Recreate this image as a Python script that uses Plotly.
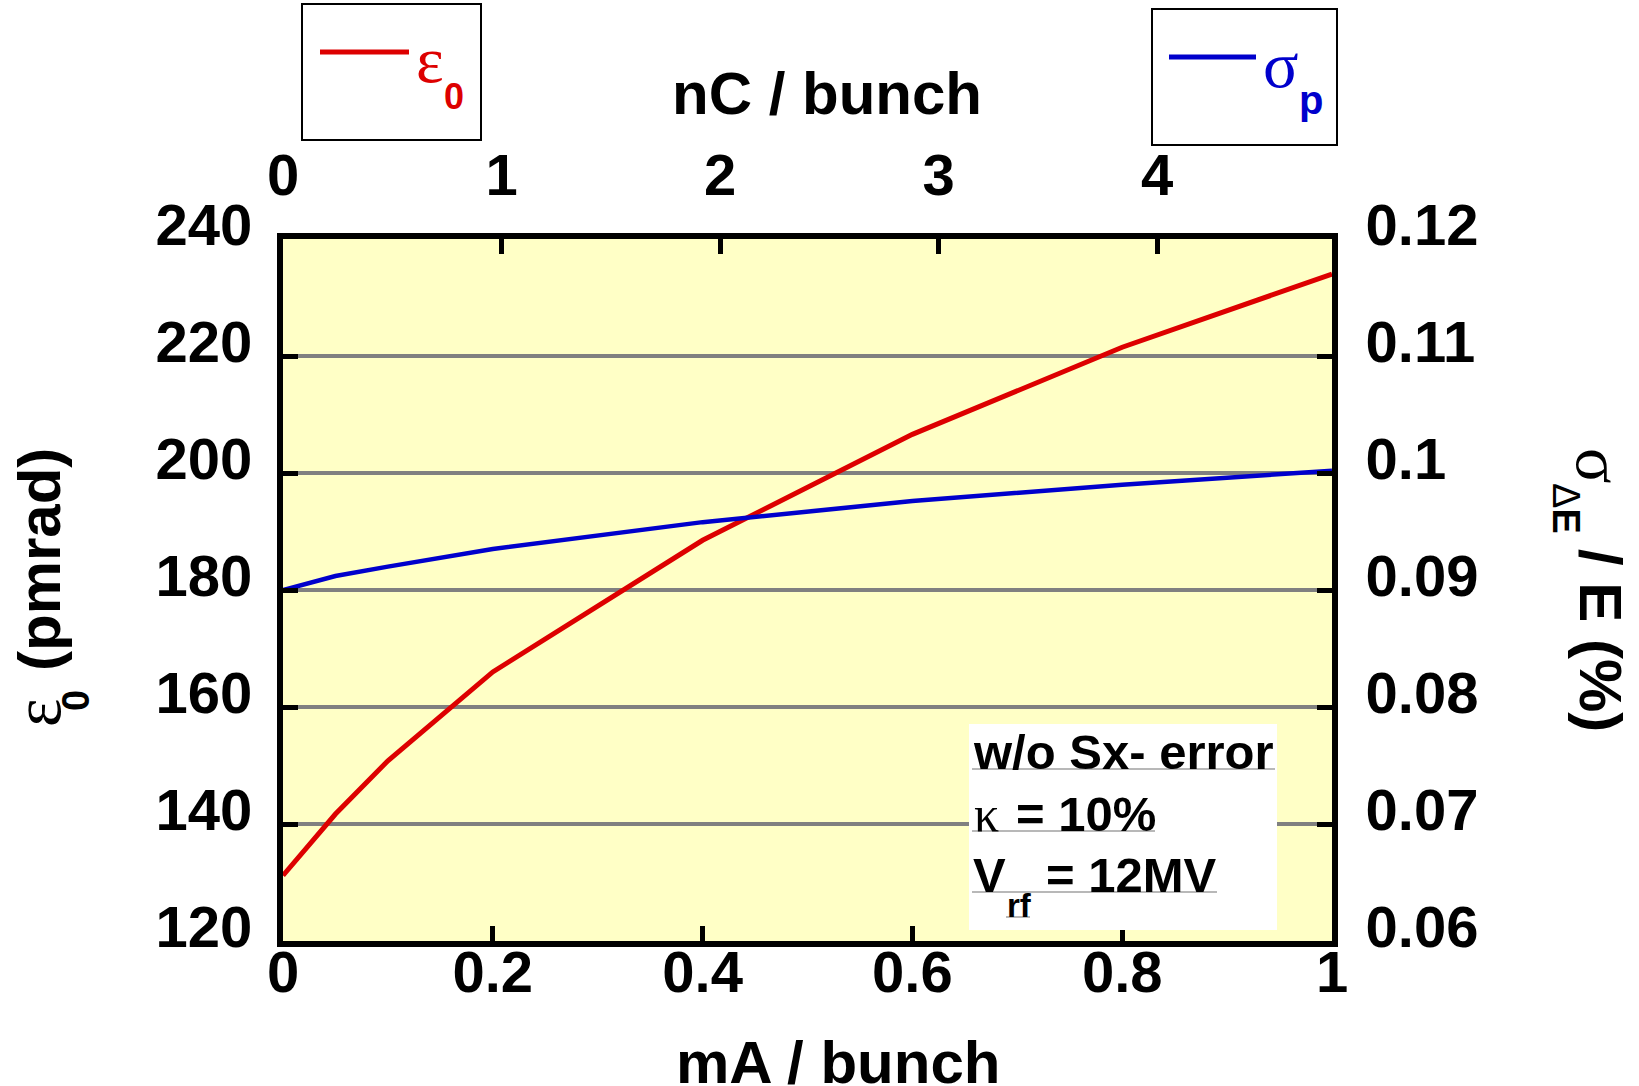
import plotly.graph_objects as go

# Bunch current (mA) and the two measured quantities
current_mA = [0, 0.05, 0.1, 0.2, 0.4, 0.6, 0.8, 1.0]
emittance_pmrad = [131.2, 141.7, 150.8, 166.0, 188.5, 206.6, 221.5, 234.0]
energy_spread_pct = [0.0900, 0.0912, 0.0920, 0.0935, 0.0958, 0.0976, 0.0990, 0.1002]

# Axis ticks
x_ticks = [0, 0.2, 0.4, 0.6, 0.8, 1]
x_ticktext = ["0", "0.2", "0.4", "0.6", "0.8", "1"]
nc_ticks = [0, 1, 2, 3, 4]
nc_ticktext = ["0", "1", "2", "3", "4"]
nc_max = 4.8
y_left_ticks = [120, 140, 160, 180, 200, 220, 240]
y_left_text = ["120", "140", "160", "180", "200", "220", "240"]
y_right_ticks = [0.06, 0.07, 0.08, 0.09, 0.10, 0.11, 0.12]
y_right_text = ["0.06", "0.07", "0.08", "0.09", "0.1", "0.11", "0.12"]

# Canvas geometry (pixels): axis lines are centred on L, R, T, B
W, H = 1639, 1086
L, R, T, B = 280, 1335, 236, 944
LW = 6                      # axis line width
HALF = LW // 2
PL, PR, PT, PB = L + HALF, R - HALF, T + HALF, B - HALF   # inner plot area

SANS = "Liberation Sans, Arial, sans-serif"
SERIF = "Liberation Serif, Times New Roman, serif"
RED = "#DD0000"
BLUE = "#0000CC"


def px(x):
    return (x - PL) / (PR - PL)


def py(y):
    return (PB - y) / (PB - PT)


fig = go.Figure()

fig.add_trace(go.Scatter(
    x=current_mA, y=emittance_pmrad, mode="lines",
    line=dict(color=RED, width=5), xaxis="x", yaxis="y",
    showlegend=False, hoverinfo="skip"))
fig.add_trace(go.Scatter(
    x=current_mA, y=energy_spread_pct, mode="lines",
    line=dict(color=BLUE, width=4.5), xaxis="x", yaxis="y2",
    showlegend=False, hoverinfo="skip"))
# empty trace that keeps the charge axis on top alive
fig.add_trace(go.Scatter(
    x=nc_ticks, y=[None] * len(nc_ticks), mode="lines",
    xaxis="x2", yaxis="y", showlegend=False, hoverinfo="skip"))

tickfont = dict(family=SANS, size=58, color="black", weight="bold")
axis_common = dict(
    showline=True, linecolor="black", linewidth=LW,
    ticks="inside", ticklen=15, tickwidth=5, tickcolor="black",
    tickfont=tickfont, zeroline=False, tickmode="array",
)

fig.update_layout(
    width=W, height=H,
    margin=dict(l=PL, r=W - PR, t=PT, b=H - PB, pad=0),
    paper_bgcolor="white",
    plot_bgcolor="#FFFFC6",
    xaxis=dict(range=[0, 1], tickvals=x_ticks, ticktext=x_ticktext,
               showgrid=False, ticklabelstandoff=-25, **axis_common),
    xaxis2=dict(range=[0, nc_max], tickvals=nc_ticks, ticktext=nc_ticktext,
                overlaying="x", side="top", anchor="y",
                showgrid=False, ticklabelstandoff=15, **axis_common),
    yaxis=dict(range=[120, 240], tickvals=y_left_ticks, ticktext=y_left_text,
               showgrid=True, gridcolor="#808080", gridwidth=4,
               ticklabelstandoff=13, ticklabelshift=-14, **axis_common),
    yaxis2=dict(range=[0.06, 0.12], tickvals=y_right_ticks,
                ticktext=y_right_text,
                overlaying="y", side="right", anchor="x",
                showgrid=False, ticklabelstandoff=16, ticklabelshift=-14,
                **axis_common),
)

annotations = []
shapes = []


def text(x, y, s, size, family=SANS, bold=True, color="black",
         xanchor="center", angle=0):
    annotations.append(dict(
        x=px(x), y=py(y), xref="paper", yref="paper", text=s,
        showarrow=False, xanchor=xanchor, yanchor="middle",
        textangle=angle, borderpad=0,
        font=dict(family=family, size=size, color=color,
                  weight="bold" if bold else "normal")))


def box(x0, x1, y0, y1, **kw):
    shapes.append(dict(type="rect", xref="paper", yref="paper",
                       x0=px(x0), x1=px(x1), y0=py(y0), y1=py(y1), **kw))


def hline(x0, x1, y, color, width, **kw):
    shapes.append(dict(type="line", xref="paper", yref="paper",
                       x0=px(x0), x1=px(x1), y0=py(y), y1=py(y),
                       line=dict(color=color, width=width), **kw))


# axis titles
text(838, 1062, "mA / bunch", 60)
text(827, 93, "nC / bunch", 60)
# left title, rotated
text(39, 560, "(pmrad)", 60, angle=-90)
text(37, 713, "ε", 68, family=SERIF, bold=False, angle=-90)
text(76, 701, "0", 38, angle=-90)
# right title, rotated
text(1600, 466, "σ", 66, family=SERIF, bold=False, angle=90)
text(1566, 508, "Δ<b>E</b>", 38, bold=False, angle=90)
text(1601, 640, "/ E (%)", 60, angle=90)

# legend boxes
box(302, 481, 4, 140, line=dict(color="black", width=2), fillcolor="white")
hline(320, 409, 52, RED, 5)
text(430, 59, "ε", 66, family=SERIF, bold=False, color=RED)
text(454, 97, "0", 36, color=RED)

box(1152, 1337, 9, 145, line=dict(color="black", width=2), fillcolor="white")
hline(1169, 1256, 57, BLUE, 5)
text(1281, 64, "σ", 66, family=SERIF, bold=False, color=BLUE)
text(1311, 100, "p", 40, color=BLUE)

# condition box inside the plot
box(969, 1277, 724, 930, layer="above", line=dict(width=0), fillcolor="white")
for x0, x1, y in [(972, 1275, 769), (972, 1155, 831), (972, 1217, 892),
                  (1006, 1030, 917)]:
    hline(x0, x1, y, "#A0A0A0", 1.5, layer="above")
text(972, 752, "w/o Sx- error", 49, xanchor="left")
text(973, 814, "κ", 50, family=SERIF, bold=False, xanchor="left")
text(1015, 814, "= 10%", 49, xanchor="left")
text(972, 875, "V", 49, xanchor="left")
text(1006, 905, "rf", 33, xanchor="left")
text(1045, 875, "= 12MV", 49, xanchor="left")

fig.update_layout(annotations=annotations, shapes=shapes)

fig.write_html("out.html")
